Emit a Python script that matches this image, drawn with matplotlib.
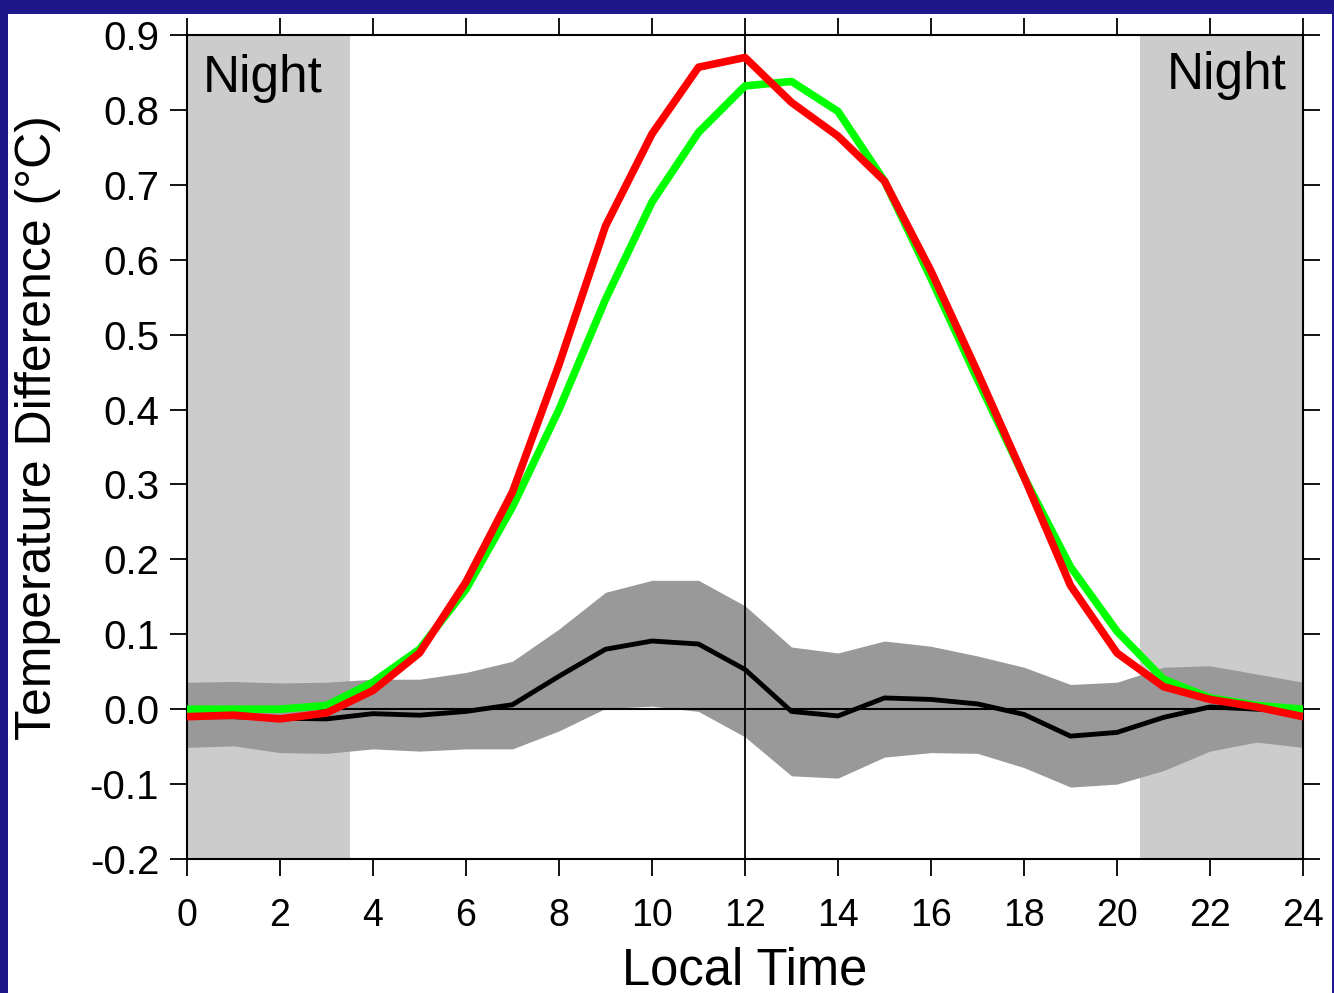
import matplotlib
matplotlib.use('Agg')
import matplotlib.pyplot as plt
import numpy as np
from matplotlib.patches import Rectangle

plt.rcParams['font.family'] = ['Liberation Sans', 'DejaVu Sans']
plt.rcParams['axes.unicode_minus'] = False

hours = np.arange(0, 25)

green = [0.0, 0.0, 0.0, 0.005, 0.036, 0.08, 0.16, 0.27, 0.40, 0.547, 0.677, 0.77, 0.832,
         0.838, 0.798, 0.705, 0.575, 0.44, 0.31, 0.19, 0.104, 0.04, 0.015, 0.005, 0.0]
red = [-0.01, -0.008, -0.013, -0.005, 0.025, 0.075, 0.17, 0.29, 0.46, 0.645, 0.768, 0.857, 0.870,
       0.81, 0.765, 0.705, 0.585, 0.45, 0.31, 0.165, 0.075, 0.03, 0.013, 0.003, -0.01]
mean_diff = [-0.01, -0.01, -0.012, -0.013, -0.006, -0.008, -0.003, 0.006, 0.044, 0.08, 0.091,
             0.087, 0.053, -0.003, -0.009, 0.015, 0.013, 0.007, -0.007, -0.036, -0.031,
             -0.011, 0.003, 0.0, -0.003]
band_upper = [0.036, 0.037, 0.035, 0.036, 0.04, 0.04, 0.049, 0.064, 0.107, 0.156, 0.172,
              0.172, 0.138, 0.083, 0.075, 0.091, 0.084, 0.071, 0.056, 0.033, 0.036,
              0.056, 0.058, 0.047, 0.036]
band_lower = [-0.051, -0.049, -0.058, -0.059, -0.053, -0.056, -0.053, -0.053, -0.029, 0.001,
              0.004, -0.003, -0.037, -0.089, -0.092, -0.064, -0.058, -0.059, -0.078, -0.104,
              -0.100, -0.082, -0.056, -0.044, -0.051]

night_spans = [(0, 3.5), (20.5, 24)]
xticks = np.arange(0, 25, 2)
yticks = np.round(np.arange(-0.2, 0.91, 0.1), 1)

fig = plt.figure(figsize=(13.34, 9.93), dpi=100, facecolor='#1e178c')
# white panel inside the navy frame
fig.add_artist(Rectangle((8 / 1334, 0), 1324 / 1334, 979 / 993, transform=fig.transFigure,
                         facecolor='white', edgecolor='none', zorder=-10))

ax = fig.add_axes([187 / 1334, 134 / 993, 1116 / 1334, 824 / 993])
ax.set_facecolor('white')

for a, b in night_spans:
    ax.axvspan(a, b, color='#cccccc', lw=0, zorder=1)

ax.fill_between(hours, band_lower, band_upper, color='#999999', lw=0, zorder=2)
ax.axhline(0, color='black', lw=1.5, zorder=3)
ax.axvline(12, color='black', lw=1.3, zorder=3)

ax.plot(hours, mean_diff, color='black', lw=3.5, zorder=4)
ax.plot(hours, green, color='#00ff00', lw=5.5, zorder=5)
ax.plot(hours, red, color='#ff0000', lw=5.5, zorder=6)

ax.text(0.33, 0.824, 'Night', fontsize=37, ha='left', va='baseline', zorder=7)
ax.text(23.65, 0.828, 'Night', fontsize=37, ha='right', va='baseline', zorder=7)

ax.set_xlim(0, 24)
ax.set_ylim(-0.2, 0.9)
ax.set_xticks(xticks)
ax.set_yticks(yticks)
ax.set_yticklabels([f'{v:.1f}' for v in yticks])
ax.tick_params(axis='both', direction='out', length=12, width=1.3,
               top=True, right=True, labeltop=False, labelright=False)
ax.tick_params(axis='x', pad=16, labelsize=27)
ax.tick_params(axis='y', pad=8, labelsize=29)
for s in ax.spines.values():
    s.set_linewidth(1.5)

ax.set_xlabel('Local Time', fontsize=36.5, labelpad=9)
ax.set_ylabel('Temperature Difference (°C)', fontsize=36)
ax.yaxis.set_label_coords(-0.113, 0.524)

plt.savefig('out.png', dpi=100, facecolor=fig.get_facecolor())
plt.close()
